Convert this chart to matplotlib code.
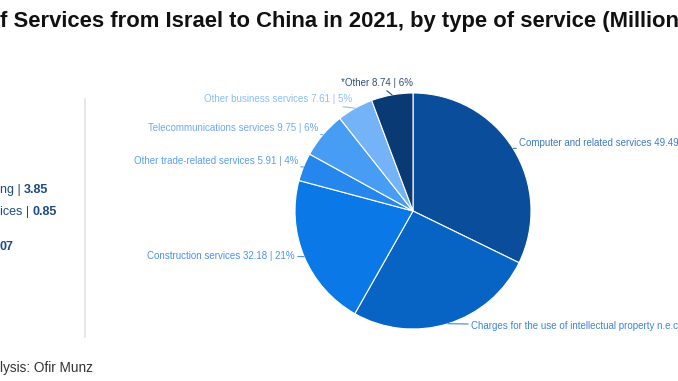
import matplotlib
matplotlib.use("Agg")
import matplotlib.pyplot as plt
import numpy as np

plt.rcParams['font.family'] = ['Liberation Sans', 'DejaVu Sans']

# Data (clockwise from 12 o'clock)
categories = [
    "Computer and related services",
    "Charges for the use of intellectual property n.e.c.",
    "Construction services",
    "Other trade-related services",
    "Telecommunications services",
    "Other business services",
    "*Other",
]
values = [49.49, 39.90, 32.18, 5.91, 9.75, 7.61, 8.74]
slice_colors = ["#0a4e9b", "#0763c4", "#0a78e6", "#2587ee", "#479cf3", "#74b3f8", "#093a73"]
label_colors = ["#3f79c9", "#3f84d8", "#4a8ff0", "#5a9ef0", "#6faaf2", "#8cbff7", "#2f4f78"]

title_text = "f Services from Israel to China in 2021, by type of service (Million"
side_labels = ["ng | ", "ices | ", ""]
side_values = ["3.85", "0.85", "07"]
source_text = "lysis: Ofir Munz"

W, H = 678, 381
fig = plt.figure(figsize=(W / 100, H / 100), dpi=100)

# pie axes: centre (413, 211) px, radius 118 px
cx, cy, R = 413, 211, 118
ax = fig.add_axes([(cx - R) / W, (H - cy - R) / H, 2 * R / W, 2 * R / H])
wedges, _ = ax.pie(values, colors=slice_colors, startangle=90, counterclock=False,
                   wedgeprops=dict(edgecolor="white", linewidth=0.8))
ax.set_xlim(-1, 1)
ax.set_ylim(-1, 1)
ax.set_aspect("equal")
ax.axis("off")

total = sum(values)

def px2d(px, py):
    return ((px - cx) / R, (cy - py) / R)

# text anchor positions (pixels) and alignment
text_pos = [(519, 143, "left"), (471, 326, "left"), (295, 256, "right"),
            (298, 161, "right"), (318, 128, "right"), (352, 99, "right"),
            (377, 83, "center")]

for w, name, v, col, (tx, ty, ha) in zip(wedges, categories, values, label_colors, text_pos):
    ang = np.deg2rad((w.theta1 + w.theta2) / 2)
    xy = (np.cos(ang), np.sin(ang))
    pct = round(v / total * 100)
    lab = f"{name} {v:.2f} | {pct}%"
    ax.annotate(lab, xy=xy, xytext=px2d(tx, ty), ha=ha, va="center",
                fontsize=7.0, color=col, annotation_clip=False,
                arrowprops=dict(arrowstyle="-", color=col, lw=0.8,
                                shrinkA=0, shrinkB=0))

# title
fig.text(0, 1 - 21 / H, title_text, fontsize=15.8, fontweight="bold",
         color="#111111", ha="left", va="center")

# left panel (cut off)
side_y = [190, 212, 247]
dark = "#1d4a85"
for lab, val, yy in zip(side_labels, side_values, side_y):
    t = fig.text(0, 1 - yy / H, lab, fontsize=9, color=dark, ha="left", va="center")
    fig.canvas.draw()
    bb = t.get_window_extent()
    fig.text(bb.x1 / W, 1 - yy / H, val, fontsize=9, color=dark,
             fontweight="bold", ha="left", va="center")

# vertical separator
fig.add_artist(plt.Line2D([84.5 / W, 84.5 / W], [1 - 99 / H, 1 - 337 / H],
                          color="#e3e3e3", lw=1.2))

# source
fig.text(0, 1 - 368 / H, source_text, fontsize=9.8, color="#333333",
         ha="left", va="center")

fig.savefig("out.png", dpi=100)
